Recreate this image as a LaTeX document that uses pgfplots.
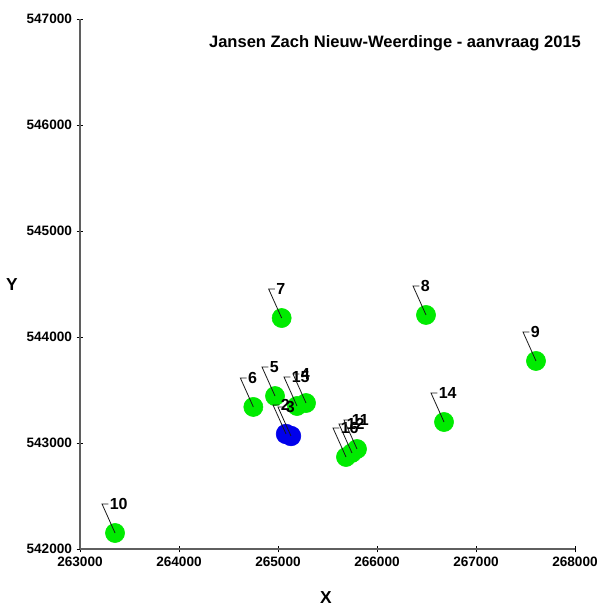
\documentclass[border=0pt]{standalone}
\usepackage{fontspec}
\setmainfont{Liberation Sans}
\usepackage{pgfplots}
\pgfplotsset{compat=1.18}
\usepackage{pgfplotstable}
\definecolor{ptgreen}{RGB}{0,235,0}
\definecolor{ptblue}{RGB}{0,0,235}
\definecolor{axgray}{RGB}{95,95,95}

\pgfdeclareplotmark{leader}{%
  \pgfpathmoveto{\pgfpointorigin}%
  \pgfpathlineto{\pgfpoint{-9.75pt}{21.75pt}}%
  \pgfpathlineto{\pgfpoint{-5pt}{21.75pt}}%
  \pgfusepathqstroke}

\pgfplotstableread{
x y label
263354 542151 10
265037 544179 7
264751 543340 6
264970 543443 5
265192 543349 15
265283 543377 4
265687 542868 16
265747 542906 12
265798 542943 11
266495 544208 8
267606 543774 9
266677 543198 14
}\greenpts

\pgfplotstableread{
x y label
265081 543085 2
265131 543066 3
}\bluepts

\begin{document}
\begin{tikzpicture}
\path[use as bounding box] (-60pt,-43.5pt) rectangle (389.25pt,411.75pt);
\begin{axis}[
  at={(0,0)}, anchor=south west,
  scale only axis,
  width=371.25pt, height=397.5pt,
  xmin=263000, xmax=268000,
  ymin=542000, ymax=547000,
  axis lines=left,
  axis line style={-, draw=axgray, line width=1.1pt},
  tick align=center,
  major tick length=5pt,
  tick style={black, line width=0.6pt},
  xtick={263000,264000,265000,266000,267000,268000},
  xticklabels={263000,264000,265000,266000,267000,268000},
  ytick={542000,543000,544000,545000,546000,547000},
  yticklabels={542000,543000,544000,545000,546000,547000},
  scaled ticks=false,
  ticklabel style={font=\bfseries\fontsize{10.2}{12}\selectfont},
  clip=false,
]
\addplot[only marks, color=ptgreen, mark=*, mark size=7.2pt] table[x=x,y=y] {\greenpts};
\addplot[only marks, color=ptblue, mark=*, mark size=7.4pt] table[x=x,y=y] {\bluepts};
\addplot[only marks, color=black, mark=leader, mark options={draw=black!90, line width=0.6pt},
  nodes near coords, point meta=explicit symbolic,
  nodes near coords align={anchor=west},
  every node near coord/.append style={anchor=west, xshift=-5pt, yshift=21.75pt, inner sep=0.8pt, text=black, font=\bfseries\fontsize{12}{14}\selectfont}]
  table[x=x,y=y,meta=label] {\greenpts};
\addplot[only marks, color=black, mark=leader, mark options={draw=black!90, line width=0.6pt},
  nodes near coords, point meta=explicit symbolic,
  nodes near coords align={anchor=west},
  every node near coord/.append style={anchor=west, xshift=-5pt, yshift=21.75pt, inner sep=0.8pt, text=black, font=\bfseries\fontsize{12}{14}\selectfont}]
  table[x=x,y=y,meta=label] {\bluepts};
\end{axis}
\node[font=\bfseries\fontsize{12.4}{14}\selectfont] at (236.25pt,379.5pt) {Jansen Zach Nieuw-Weerdinge - aanvraag 2015};
\node[font=\bfseries\fontsize{13}{15}\selectfont] at (184.5pt,-36.75pt) {X};
\node[font=\bfseries\fontsize{13}{15}\selectfont] at (-51pt,198pt) {Y};
\end{tikzpicture}
\end{document}
